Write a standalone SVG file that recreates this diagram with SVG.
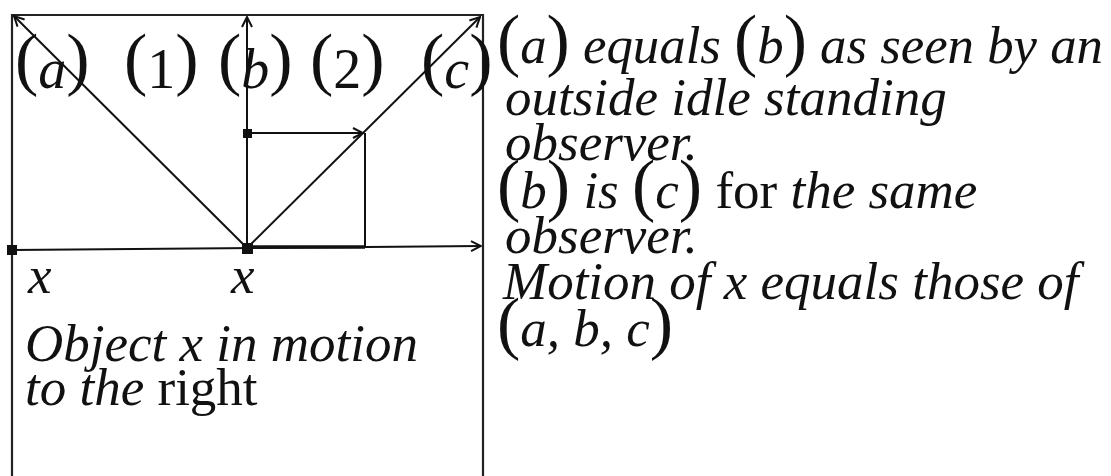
<svg xmlns="http://www.w3.org/2000/svg" width="1111" height="476" viewBox="0 0 1111 476">
<style>
text{font-family:"Liberation Serif","Times New Roman",serif;fill:#111;}
.t{font-size:53px;font-style:italic;}
.lb{font-size:56px;font-style:italic;}
.p{font-size:70px;font-style:normal;}
.u{font-style:normal;}
.ln{stroke:#111;stroke-width:2;fill:none;}
.fr{stroke:#222;stroke-width:2.2;fill:none;}
</style>
<defs>
<marker id="arr" viewBox="0 0 12 12" refX="11" refY="6" markerWidth="12" markerHeight="12" markerUnits="userSpaceOnUse" orient="auto">
<path d="M1,1 L11,6 L1,11" fill="none" stroke="#111" stroke-width="2"/>
</marker>
</defs>
<rect width="1111" height="476" fill="#fff"/>
<g id="frame">
<path class="fr" d="M12,476 L12,15 L483,15 L483,476"/>
</g>
<g id="connectors">
<line class="ln" x1="12" y1="250" x2="481" y2="246" marker-end="url(#arr)"/>
<line class="ln" x1="247" y1="248" x2="247" y2="17" marker-end="url(#arr)"/>
<line class="ln" x1="247" y1="248" x2="14" y2="16" marker-end="url(#arr)"/>
<line class="ln" x1="247" y1="248" x2="480" y2="17" marker-end="url(#arr)"/>
<line class="ln" x1="247" y1="133" x2="363" y2="133" marker-end="url(#arr)"/>
<line class="ln" x1="365" y1="133" x2="365" y2="247"/>
<line x1="247" y1="247" x2="365" y2="247" stroke="#111" stroke-width="3.5"/>
<rect x="7" y="245" width="10" height="10" fill="#111"/>
<rect x="242" y="243" width="11" height="11" fill="#111"/>
<rect x="243" y="129" width="9" height="9" fill="#111"/>
</g>
<g id="label-a"><text class="lb" x="15" y="88"><tspan class="p" dy="-6">(</tspan><tspan dy="6">a</tspan><tspan class="p" dy="-6">)</tspan></text></g>
<g id="label-1"><text class="lb" x="124" y="88"><tspan class="p" dy="-6">(</tspan><tspan class="u" dy="6">1</tspan><tspan class="p" dy="-6">)</tspan></text></g>
<g id="label-b"><text class="lb" x="218" y="88"><tspan class="p" dy="-6">(</tspan><tspan dy="6">b</tspan><tspan class="p" dy="-6">)</tspan></text></g>
<g id="label-2"><text class="lb" x="310" y="88"><tspan class="p" dy="-6">(</tspan><tspan class="u" dy="6">2</tspan><tspan class="p" dy="-6">)</tspan></text></g>
<g id="label-c"><text class="lb" x="421" y="88"><tspan class="p" dy="-6">(</tspan><tspan dy="6">c</tspan><tspan class="p" dy="-6">)</tspan></text></g>
<g id="label-x1"><text class="t" x="28" y="293">x</text></g>
<g id="label-x2"><text class="t" x="231" y="293">x</text></g>
<g id="caption-left">
<text class="t" x="25" y="361" font-size="54">Object x in motion</text>
<text class="t" x="25" y="405" font-size="54">to the <tspan class="u">right</tspan></text>
</g>
<g id="caption-right">
<text class="t" x="497" y="63" textLength="606" lengthAdjust="spacingAndGlyphs"><tspan class="p">(</tspan>a<tspan class="p">)</tspan> equals <tspan class="p">(</tspan>b<tspan class="p">)</tspan> as seen by an</text>
<text class="t" x="505" y="115">outside idle standing</text>
<text class="t" x="505" y="160">observer.</text>
<text class="t" x="497" y="208"><tspan class="p">(</tspan>b<tspan class="p">)</tspan> is <tspan class="p">(</tspan>c<tspan class="p">)</tspan> <tspan class="u">for</tspan> the same</text>
<text class="t" x="505" y="253">observer.</text>
<text class="t" x="503" y="299">Motion of x equals those of</text>
<text class="t" x="497" y="346"><tspan class="p">(</tspan>a, b, c<tspan class="p">)</tspan></text>
</g>
</svg>
